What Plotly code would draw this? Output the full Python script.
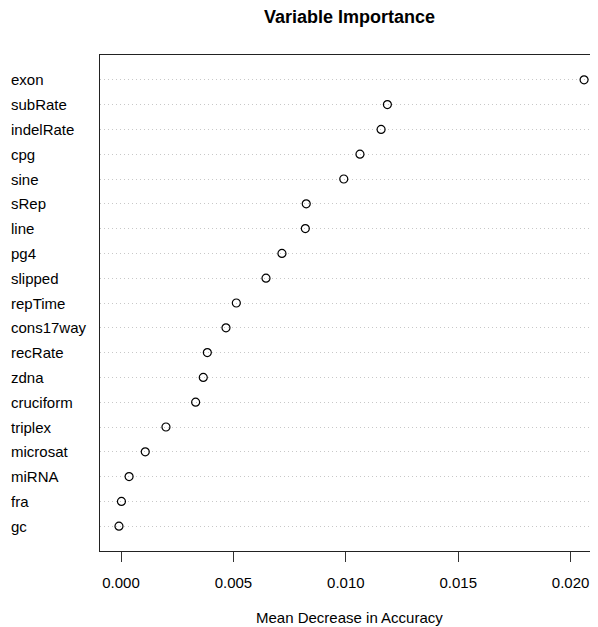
import plotly.graph_objects as go

variables = ["exon", "subRate", "indelRate", "cpg", "sine", "sRep", "line", "pg4",
             "slipped", "repTime", "cons17way", "recRate", "zdna", "cruciform",
             "triplex", "microsat", "miRNA", "fra", "gc"]
importance = [0.02060, 0.01185, 0.01157, 0.01063, 0.00991, 0.00824, 0.00820, 0.00716,
              0.00645, 0.00513, 0.00467, 0.00384, 0.00366, 0.00332,
              0.00200, 0.00108, 0.00036, 0.00002, -0.00009]
x_ticks = [0.000, 0.005, 0.010, 0.015, 0.020]
x_tick_labels = ["0.000", "0.005", "0.010", "0.015", "0.020"]

n = len(variables)
rows = [n - i for i in range(n)]  # exon at top

FONT = "Liberation Sans, Arial, Helvetica, sans-serif"

# page body has an 8px default margin; figure is sized to compensate
W, H = 590, 619
ML, MT, MB = 92, 47, 76
plot_w = W - ML
plot_h = H - MT - MB

fig = go.Figure()
fig.add_trace(go.Scatter(
    x=importance, y=rows, mode="markers", cliponaxis=False,
    marker=dict(symbol="circle-open", size=8, color="black", line=dict(width=1.2, color="black")),
    showlegend=False, hoverinfo="skip",
))

annotations = []
for name, r in zip(variables, rows):
    annotations.append(dict(
        text=name, x=(-ML + 0.5) / plot_w, xref="paper", y=r, yref="y",
        xanchor="left", yanchor="middle", showarrow=False,
        font=dict(family=FONT, size=15, color="black"),
    ))
annotations.append(dict(
    text="<b>Variable Importance</b>", x=0.5, xref="paper", y=1 + 38 / plot_h, yref="paper",
    xanchor="center", yanchor="middle", showarrow=False,
    font=dict(family=FONT, size=18, color="black"),
))
annotations.append(dict(
    text="Mean Decrease in Accuracy", x=0.5, xref="paper", y=-66 / plot_h, yref="paper",
    xanchor="center", yanchor="middle", showarrow=False,
    font=dict(family=FONT, size=15, color="black"),
))

fig.update_layout(
    width=W, height=H,
    margin=dict(l=ML, r=0, t=MT, b=MB, pad=0),
    paper_bgcolor="white", plot_bgcolor="white",
    annotations=annotations,
    xaxis=dict(
        range=[-0.000934, 0.021219],
        tickvals=x_ticks, ticktext=x_tick_labels,
        ticks="outside", ticklen=10, tickwidth=1, tickcolor="#333",
        showline=True, mirror=True, linecolor="#222", linewidth=1,
        showgrid=False, zeroline=False,
        tickfont=dict(family=FONT, size=15, color="black"),
        ticklabelstandoff=8,
    ),
    yaxis=dict(
        range=[0, n + 1],
        tickvals=rows, showticklabels=False, ticks="",
        showline=True, mirror=False, linecolor="#222", linewidth=1,
        showgrid=True, gridcolor="#c8c8c8", gridwidth=1, griddash="1px,3px",
        zeroline=False,
    ),
)

fig.write_html("out.html")
